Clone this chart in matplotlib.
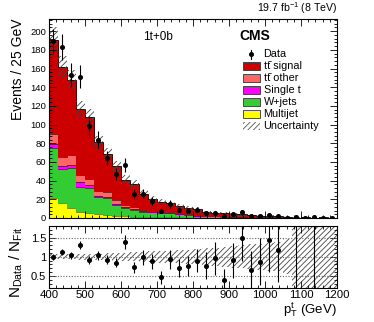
import numpy as np
import matplotlib.pyplot as plt
from matplotlib.patches import Rectangle
from matplotlib.ticker import MultipleLocator, FormatStrFormatter

plt.rcParams['font.family'] = ['Liberation Sans', 'DejaVu Sans']
plt.rcParams['mathtext.fontset'] = 'custom'
plt.rcParams['mathtext.rm'] = 'Liberation Sans'
plt.rcParams['mathtext.it'] = 'Liberation Sans:italic'
plt.rcParams['mathtext.bf'] = 'Liberation Sans:bold'
plt.rcParams['hatch.linewidth'] = 0.6

# bin edges in GeV (25 GeV bins, 400-1200)
edges = np.arange(400, 1225, 25)

# stacked components (events per bin), bottom to top
multijet = [21, 16.5, 10.5, 6.5, 5.5, 4.5, 3, 2.2, 2, 1.5, 1.2, 1, 0.8, 0.7, 0.6, 0.5,
            0.4, 0.3, 0.3, 0.2, 0.2, 0.2, 0.1, 0.1, 0.1, 0.1, 0.1, 0.05, 0.05, 0.05, 0.05, 0.05]
wjets = [53.4, 35.5, 42.5, 27, 27, 18, 18, 11.5, 9, 7.5, 5.3, 5, 4.7, 4.3, 3.6, 3,
         1.8, 1.6, 1.3, 1.2, 1.1, 1.0, 0.7, 0.6, 0.5, 0.45, 0.35, 0.15, 0.25, 0.1, 0.15, 0.12]
single_t = [4.3, 3.2, 3.5, 4.5, 2.5, 1.5, 1.5, 1.2, 1.0, 0.8, 0.6, 0.6, 0.5, 0.4, 0.3, 0.3,
            0.3, 0.25, 0.2, 0.2, 0.15, 0.15, 0.1, 0.1, 0.1, 0.08, 0.07, 0.03, 0.05, 0.03, 0.04, 0.03]
tt_other = [11, 10.4, 11, 8, 6.5, 5, 5.5, 4, 2, 2, 1.5, 1.2, 1.0, 0.9, 0.8, 0.7,
            0.6, 0.5, 0.4, 0.4, 0.35, 0.3, 0.25, 0.2, 0.2, 0.15, 0.13, 0.05, 0.1, 0.04, 0.07, 0.05]
tt_signal = [101.3, 96.2, 80.5, 70.5, 66.5, 52, 41, 36.6, 27.2, 24.1, 17.6, 12.7, 10.3, 9.7, 7.3, 6,
             6.9, 3.85, 3.0, 3.0, 2.6, 2.35, 1.85, 1.3, 1.2, 0.92, 0.75, 0.17, 0.45, 0.13, 0.29, 0.25]

# observed events
data = [189, 183, 153, 151, 99, 84, 64, 47, 57, 26, 26, 18, 8, 15, 9, 8,
        9, 5, 5, 2, 4, 6, 2, 2, 3, 2, 0, 1, 0, 1, 0, 0]

# relative uncertainty of the fit
unc_rel = [0.07, 0.07, 0.07, 0.075, 0.08, 0.085, 0.09, 0.1, 0.11, 0.12, 0.13, 0.14, 0.15, 0.16, 0.17, 0.18,
           0.2, 0.22, 0.24, 0.26, 0.28, 0.3, 0.32, 0.34, 0.36, 0.38, 0.45, 1, 1, 1, 1, 1]

components = [
    (multijet, '#ffff00', '#8a8a00', 'Multijet'),
    (wjets, '#33cc33', '#1d5e1d', 'W+jets'),
    (single_t, '#ff00ff', '#7a007a', 'Single t'),
    (tt_other, '#ff6666', '#7a2222', 'tt\u0304 other'),
    (tt_signal, '#cc0000', '#3a0000', 'tt\u0304 signal'),
]

fig = plt.figure(figsize=(3.74, 3.22), dpi=100)
ax = fig.add_axes([0.131, 0.323, 0.770, 0.618])
rax = fig.add_axes([0.131, 0.107, 0.770, 0.191])

bottom = np.zeros(len(edges) - 1)
for vals, col, ecol, lab in components:
    top = bottom + np.array(vals)
    ax.stairs(top, edges, baseline=bottom, fill=True, color=col, lw=0)
    ax.stairs(top, edges, color=ecol, lw=0.7)
    bottom = top
total = bottom

unc = np.array(unc_rel)
ax.stairs(total * (1 + unc), edges, baseline=total * (1 - unc), fill=True,
          facecolor='none', edgecolor='#444444', hatch='//////', lw=0)

data = np.array(data, dtype=float)
centers = 0.5 * (edges[1:] + edges[:-1])
err = np.sqrt(data)
ax.errorbar(centers, data, yerr=err, fmt='o', color='black', ms=2.6, elinewidth=0.8, capsize=0)

ax.set_xlim(400, 1200)
ax.set_ylim(0, 213)
ax.set_ylabel('Events / 25 GeV', loc='top', fontsize=10)
ax.yaxis.set_major_locator(MultipleLocator(20))
ax.yaxis.set_minor_locator(MultipleLocator(4))
ax.xaxis.set_major_locator(MultipleLocator(100))
ax.xaxis.set_minor_locator(MultipleLocator(20))
ax.tick_params(labelbottom=False)

# legend, drawn entry by entry
leg_x, leg_y0, leg_dy = 0.673, 0.822, 0.0603
box_w, box_h = 0.060, 0.040
ax.plot([leg_x + box_w / 2] * 2, [leg_y0 - 0.022, leg_y0 + 0.022], color='black', lw=0.8,
        transform=ax.transAxes, clip_on=False)
ax.plot([leg_x + box_w / 2], [leg_y0], 'o', color='black', ms=2.6, transform=ax.transAxes)
ax.text(leg_x + box_w + 0.012, leg_y0, 'Data', transform=ax.transAxes, fontsize=7.8, va='center')
entries = [components[4], components[3], components[2], components[1], components[0]]
for i, (vals, col, ecol, lab) in enumerate(entries, start=1):
    y = leg_y0 - i * leg_dy
    ax.add_patch(Rectangle((leg_x, y - box_h / 2), box_w, box_h, transform=ax.transAxes,
                           facecolor=col, edgecolor='#333333', lw=0.6))
    ax.text(leg_x + box_w + 0.012, y, lab, transform=ax.transAxes, fontsize=7.8, va='center')
y = leg_y0 - 6 * leg_dy
ax.add_patch(Rectangle((leg_x, y - box_h / 2), box_w, box_h, transform=ax.transAxes,
                       facecolor='none', edgecolor='#555555', hatch='//////', lw=0))
ax.text(leg_x + box_w + 0.012, y, 'Uncertainty', transform=ax.transAxes, fontsize=7.8, va='center')

ax.text(0.377, 0.912, '1t+0b', transform=ax.transAxes, fontsize=8.5, va='center', ha='center')
ax.text(0.66, 0.915, 'CMS', transform=ax.transAxes, fontsize=10, fontweight='bold', va='center', ha='left')
ax.text(1.0, 1.015, r'19.7 fb$^{-1}$ (8 TeV)', transform=ax.transAxes, fontsize=7.6, ha='right', va='bottom')

# ratio panel
rax.stairs(1 + unc, edges, baseline=1 - unc, fill=True, facecolor='none',
           edgecolor='#444444', hatch='//////', lw=0)
for yv in (0.5, 1.0, 1.5):
    rax.axhline(yv, color='#666666', lw=0.8, ls=(0, (1, 1.5)))
ratio = data / total
rerr = err / total
zero = data == 0
rax.errorbar(centers[~zero], ratio[~zero], yerr=rerr[~zero], fmt='o', color='black',
             ms=2.6, elinewidth=0.8, capsize=0)
rax.set_xlim(400, 1200)
rax.set_ylim(0.2, 1.8)
rax.yaxis.set_major_locator(MultipleLocator(0.5))
rax.yaxis.set_minor_locator(MultipleLocator(0.1))
rax.yaxis.set_major_formatter(FormatStrFormatter('%g'))
rax.xaxis.set_major_locator(MultipleLocator(100))
rax.xaxis.set_minor_locator(MultipleLocator(20))
rax.set_ylabel(r'$\mathrm{N_{Data}}$ / $\mathrm{N_{Fit}}$', loc='top', fontsize=11)
rax.set_xlabel(r'$\mathrm{p_{T}^{t}}$ (GeV)', loc='right', fontsize=9.5)
rax.xaxis.set_label_coords(1.0, -0.215)

for a in (ax, rax):
    a.tick_params(which='both', direction='in', top=True, right=True, pad=2)
    a.tick_params(which='major', length=5, width=0.6)
    a.tick_params(which='minor', length=2.5, width=0.6)
    for s in a.spines.values():
        s.set_linewidth(0.8)
ax.tick_params(labelsize=6.8)
rax.tick_params(axis='x', labelsize=8.2)
rax.tick_params(axis='y', labelsize=8)

fig.savefig('out.png', dpi=100)
